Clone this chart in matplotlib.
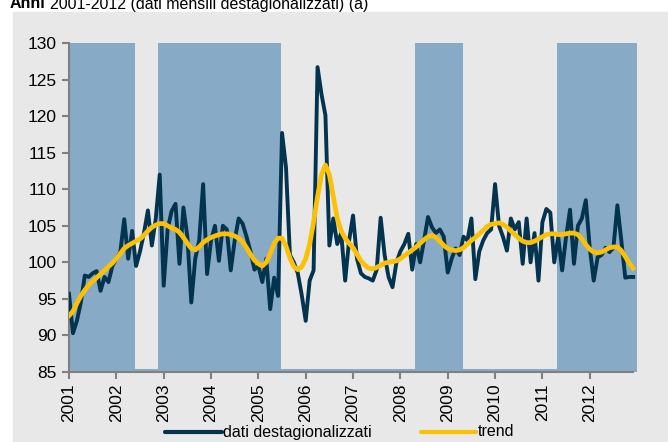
import numpy as np
import matplotlib
matplotlib.use("Agg")
import matplotlib.pyplot as plt
from matplotlib.lines import Line2D
from matplotlib.patches import Rectangle

# serie mensile destagionalizzata, 2001-2012 (un anno per riga)
dati = [
    95.7, 90.3, 92.0, 94.5, 98.2, 98.0, 98.5, 98.8, 96.1, 98.0, 97.3, 99.5,
    100.5, 101.4, 105.9, 100.5, 104.3, 99.5, 101.5, 104.0, 107.1, 102.3, 106.0, 112.0,
    96.8, 104.5, 107.0, 108.0, 99.8, 107.5, 103.5, 94.5, 100.5, 103.0, 110.7, 98.4,
    103.0, 105.0, 100.2, 105.0, 104.5, 98.9, 103.0, 106.0, 105.3, 103.5, 101.5, 99.0,
    99.5, 97.3, 100.5, 93.6, 97.9, 95.4, 117.7, 113.0, 101.0, 100.0, 98.5, 95.5,
    92.0, 97.5, 98.9, 126.7, 123.0, 120.1, 102.3, 106.0, 102.5, 104.0, 97.5, 103.0,
    106.4, 100.5, 98.5, 98.0, 97.8, 97.5, 99.0, 106.1, 101.0, 98.0, 96.6, 100.0,
    101.5, 102.5, 103.9, 99.0, 102.5, 100.0, 103.0, 106.2, 104.8, 104.0, 104.5, 103.5,
    98.6, 100.5, 101.9, 101.0, 103.5, 103.0, 106.0, 97.7, 101.5, 103.0, 104.0, 104.5,
    110.7, 105.0, 103.5, 101.6, 106.0, 104.5, 105.5, 99.8, 106.0, 100.0, 104.0, 97.5,
    105.5, 107.3, 106.8, 100.0, 103.5, 98.9, 103.5, 107.2, 99.8, 105.0, 106.0, 108.5,
    102.0, 97.5, 100.7, 101.0, 102.0, 101.4, 102.0, 107.8, 103.0, 97.9, 98.0, 98.0,
]

trend = [
    92.7, 93.3, 94.4, 95.4, 96.2, 96.9, 97.4, 97.9, 98.4, 98.9, 99.4, 99.9,
    100.5, 101.2, 101.9, 102.3, 102.6, 102.9, 103.2, 103.7, 104.3, 104.8, 105.1, 105.3,
    105.3, 105.0, 104.7, 104.5, 104.1, 103.4, 102.6, 101.9, 101.7, 102.1, 102.7, 103.1,
    103.4, 103.6, 103.8, 103.9, 103.9, 103.8, 103.6, 103.3, 102.8, 102.0, 101.1, 100.3,
    99.8, 99.5, 100.0, 101.2, 102.6, 103.3, 103.3, 102.2, 100.6, 99.4, 99.0, 99.4,
    100.5, 102.5, 105.5, 109.0, 112.0, 113.3, 112.0, 109.0, 106.0, 104.3, 103.3, 102.6,
    102.0, 101.1, 100.2, 99.6, 99.2, 99.1, 99.3, 99.6, 99.9, 100.0, 100.1, 100.2,
    100.5, 100.9, 101.3, 101.7, 102.1, 102.6, 103.1, 103.5, 103.7, 103.4, 102.9, 102.3,
    101.9, 101.7, 101.6, 101.7, 102.0, 102.5, 103.0, 103.4, 103.9, 104.4, 104.9, 105.2,
    105.3, 105.4, 105.2, 104.8, 104.3, 103.8, 103.3, 102.9, 102.7, 102.7, 102.9, 103.2,
    103.5, 103.8, 103.9, 103.9, 103.8, 103.8, 103.9, 104.0, 104.0, 103.8, 103.2, 102.4,
    101.8, 101.4, 101.3, 101.4, 101.7, 102.0, 102.1, 102.1, 101.6, 100.8, 99.9, 99.2,
]

anni = [str(a) for a in range(2001, 2013)]
# fasi ombreggiate, in mesi dall'inizio del 2001
fasi = [(0, 16.7), (22.6, 53.8), (87.7, 99.9), (123.6, 143.9)]

BLU = "#87aac6"
GRIGIO = "#e8e8e8"
NAVY = "#03344f"
GIALLO = "#ffc000"
FS = 12.5     # etichette degli assi
FS_LEG = 11.5  # legenda e titolo

plt.rcParams["font.family"] = ["Liberation Sans", "DejaVu Sans"]
plt.rcParams["font.size"] = FS

W, H = 668, 442
fig = plt.figure(figsize=(W / 100, H / 100), dpi=100, facecolor="white")
fig.add_artist(Rectangle((13 / W, 0), 1 - 13 / W, (H - 12) / H,
                         transform=fig.transFigure, color=GRIGIO, zorder=0))

# titolo (tagliato in alto come nell'originale)
t1 = fig.text(10 / W, (H - 8.5) / H, "Anni", fontweight="bold", fontsize=FS_LEG,
              va="baseline")
fig.canvas.draw()
x_end = t1.get_window_extent().x1
fig.text((x_end + 4) / W, (H - 8.5) / H, "2001-2012 (dati mensili destagionalizzati) (a)",
         fontsize=FS_LEG, va="baseline")

ax = fig.add_axes([69 / W, (H - 372) / H, (636.7 - 69) / W, (372 - 43) / H])
ax.patch.set_alpha(0)

for a, b in fasi:
    ax.axvspan(a, b, color=BLU, lw=0, zorder=1)
ax.axhspan(85, 85.35, color=BLU, lw=0, zorder=1)

x = np.arange(len(dati))
ax.plot(x, dati, color=NAVY, lw=2.8, zorder=3)
ax.plot(x, trend, color=GIALLO, lw=3.4, zorder=4)

ax.set_xlim(0, 143.9)
ax.set_ylim(85, 130)
ax.set_yticks(range(85, 131, 5))
ax.set_xticks(np.arange(len(anni)) * 12)
ax.set_xticklabels(anni, rotation=90)

for s in ["top", "right"]:
    ax.spines[s].set_visible(False)
for s in ["left", "bottom"]:
    ax.spines[s].set_color("#808080")
    ax.spines[s].set_linewidth(1.5)
ax.spines["bottom"].set_bounds(0, 143)
ax.tick_params(axis="both", colors="#808080", width=1.5, length=5, labelsize=FS,
               labelcolor="black")
ax.tick_params(axis="y", pad=4)
ax.tick_params(axis="x", pad=3)

# legenda in basso
yl = (H - 432) / H
fig.add_artist(Line2D([165 / W, 222 / W], [yl, yl], color=NAVY, lw=3,
                      solid_capstyle="round"))
fig.text(223 / W, yl, "dati destagionalizzati", va="center", fontsize=FS_LEG)
fig.add_artist(Line2D([421 / W, 476 / W], [yl, yl], color=GIALLO, lw=3,
                      solid_capstyle="round"))
fig.text(478 / W, yl, "trend", va="center", fontsize=FS_LEG)

fig.savefig("out.png", dpi=100, facecolor="white")
